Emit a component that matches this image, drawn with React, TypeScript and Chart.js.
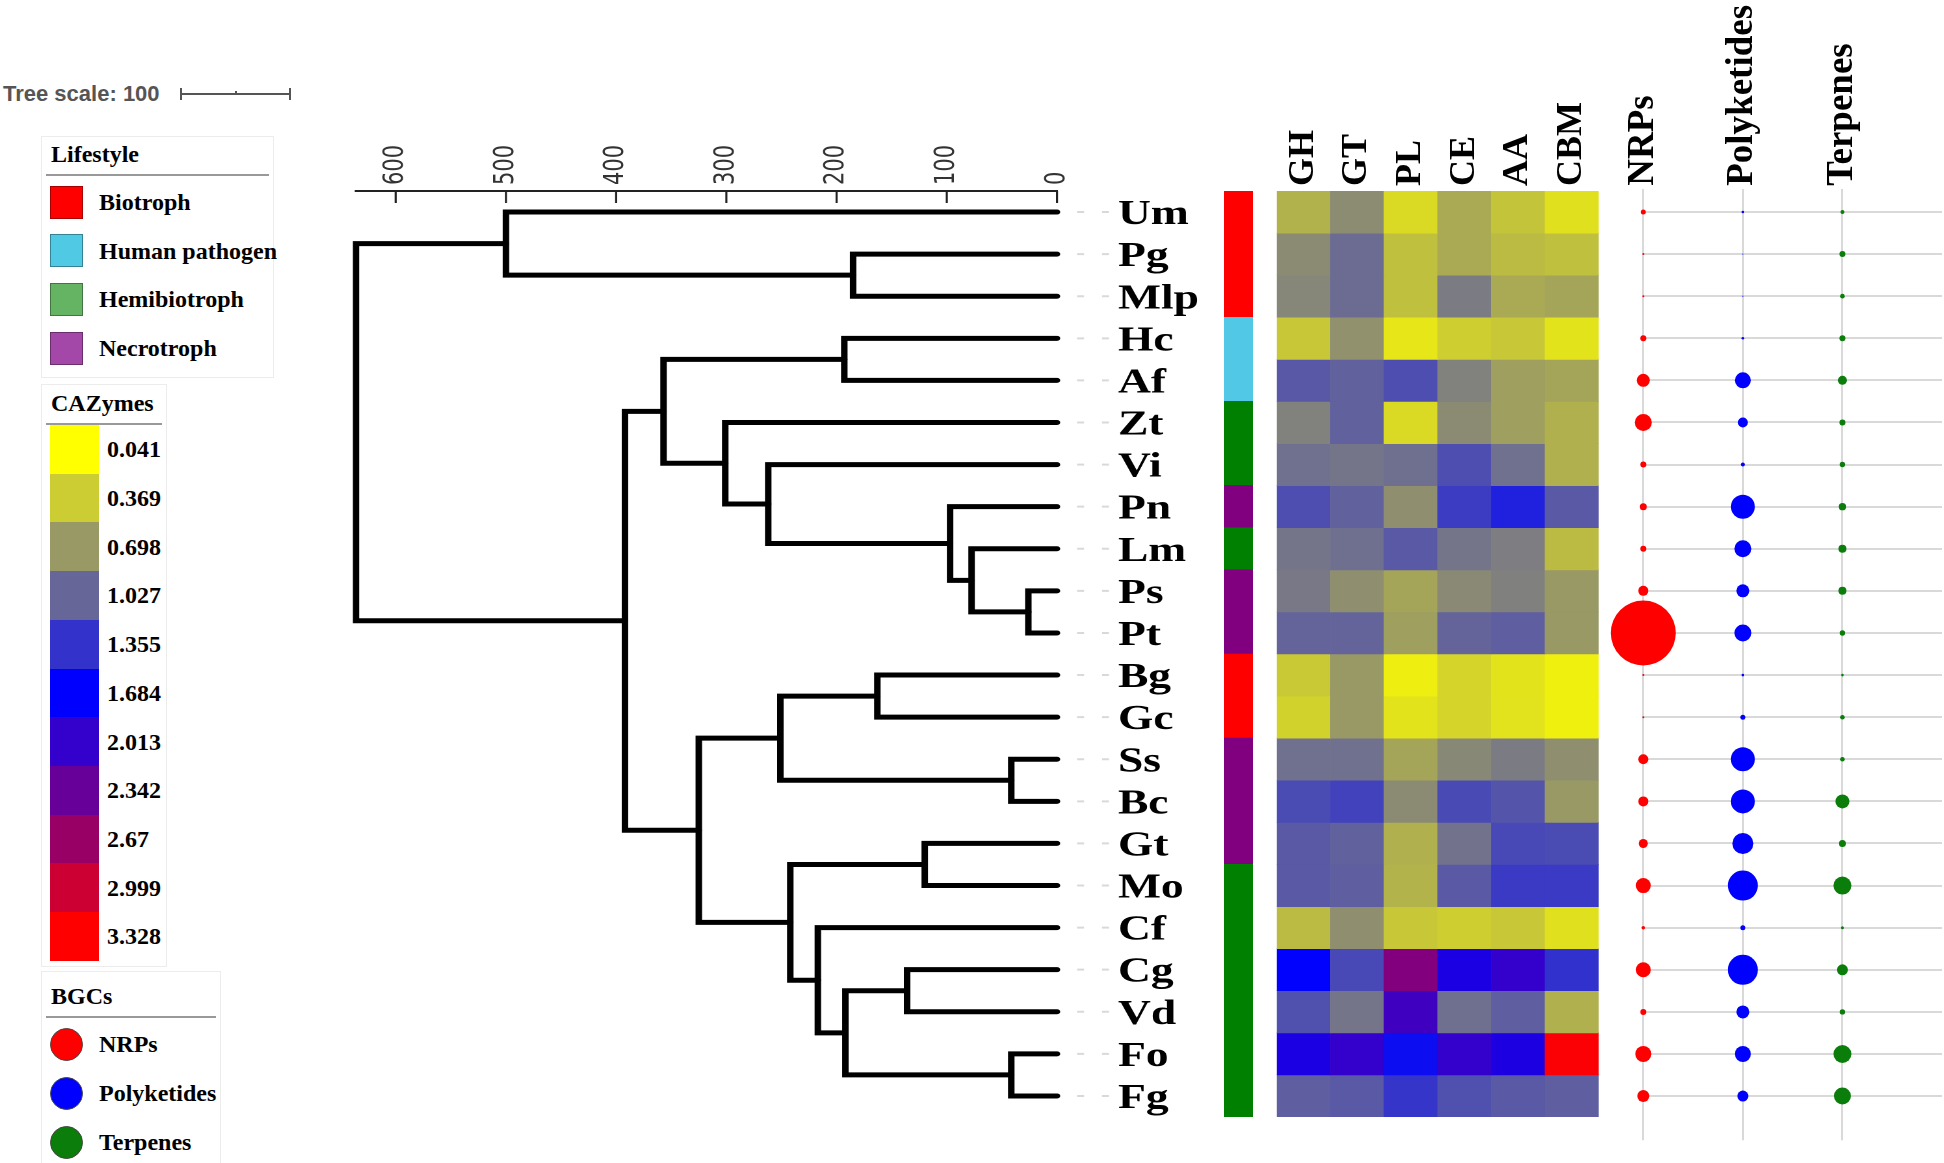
import React, { useEffect, useRef } from 'react';
import { Chart, registerables } from 'chart.js';
Chart.register(...registerables);

// ---------------- data ----------------
const species = ['Um','Pg','Mlp','Hc','Af','Zt','Vi','Pn','Lm','Ps','Pt','Bg','Gc','Ss','Bc','Gt','Mo','Cf','Cg','Vd','Fo','Fg'];

const lifestyles = ['Biotroph', 'Human pathogen', 'Hemibiotroph', 'Necrotroph'];
const speciesLifestyle = ['Biotroph','Biotroph','Biotroph','Human pathogen','Human pathogen','Hemibiotroph','Hemibiotroph','Necrotroph','Hemibiotroph','Necrotroph','Necrotroph','Biotroph','Biotroph','Necrotroph','Necrotroph','Necrotroph','Hemibiotroph','Hemibiotroph','Hemibiotroph','Hemibiotroph','Hemibiotroph','Hemibiotroph'];
const lifestyleBarColors = ['#ff0000', '#50c8e6', '#008000', '#800080'];
const lifestyleKeyColors = ['#ff0000', '#4fc9e4', '#64b464', '#a348a9'];

// dendrogram: internal nodes, their heights and children
const treeNodeNames = ['A','B','C','D','E','F','G','H','I','J','K','L','M','N','O','P','Q','R','S','T','Root'];
const treeNodeHeights = [500, 185, 392, 357, 193, 301, 262, 97, 77.5, 26, 325, 251, 163, 41.5, 242, 120, 217, 192, 136, 41.5, 636];
const treeNodeChildren = [['Um','B'],['Pg','Mlp'],['D','K'],['E','F'],['Hc','Af'],['Zt','G'],['Vi','H'],['Pn','I'],['Lm','J'],['Ps','Pt'],['L','O'],['M','N'],['Bg','Gc'],['Ss','Bc'],['P','Q'],['Gt','Mo'],['Cf','R'],['S','T'],['Cg','Vd'],['Fo','Fg'],['A','C']];
const treeScaleValue = 100;

// CAZymes heatmap
const cazyClasses = ['GH', 'GT', 'PL', 'CE', 'AA', 'CBM'];
const GH  = [0.54,0.79,0.82,0.40,1.12,0.85,0.96,1.18,0.93,0.91,1.04,0.39,0.33,0.96,1.20,1.11,1.11,0.48,1.68,1.17,1.86,1.08];
const GT  = [0.78,0.99,0.99,0.75,1.06,1.06,0.93,1.06,0.97,0.76,1.04,0.70,0.70,0.96,1.26,1.06,1.08,0.76,1.22,0.93,2.01,1.11];
const PL  = [0.28,0.45,0.45,0.20,1.18,0.28,0.97,0.76,1.11,0.62,0.66,0.15,0.22,0.62,0.79,0.55,0.53,0.40,2.52,2.10,1.60,1.34];
const CE  = [0.59,0.59,0.89,0.36,0.85,0.79,1.18,1.30,0.93,0.80,1.04,0.32,0.32,0.81,1.21,0.95,1.11,0.36,1.86,0.97,2.01,1.17];
const AA  = [0.42,0.48,0.59,0.40,0.66,0.66,0.96,1.48,0.88,0.86,1.08,0.22,0.23,0.89,1.14,1.22,1.31,0.40,2.01,1.08,1.87,1.11];
const CBM = [0.24,0.45,0.62,0.22,0.62,0.55,0.55,1.11,0.48,0.70,0.70,0.14,0.14,0.76,0.70,1.20,1.31,0.24,1.37,0.55,3.30,1.08];
const cazyLegendTicks = [0.041, 0.369, 0.698, 1.027, 1.355, 1.684, 2.013, 2.342, 2.67, 2.999, 3.328];

// BGCs (bubble sizes)
const bgcNames = ['NRPs', 'Polyketides', 'Terpenes'];
const NRPs        = [2.5,1,1,3,6.5,8.5,3,3.5,3,5,32.5,1,1,5,5,4.5,7.5,1.8,7.5,3,8,6];
const Polyketides = [1.3,0.6,0.6,1.3,8,5,2,12,8.5,6.5,8.5,1.3,2.5,12,12,10.5,15,2.5,15,6.5,8,5.5];
const Terpenes    = [2,3,2.3,3,4.5,3,2.7,3.7,4,4,2.7,1.3,2.3,2.3,7,3.5,9,1.5,5.5,2.7,9,8.5];
const bgcColors = ['#ff0000', '#0000ff', '#0b7d0b'];

// ---------------- helpers ----------------
const cazyValues = [GH, GT, PL, CE, AA, CBM];
const cMin = cazyLegendTicks[0];
const cMax = cazyLegendTicks[cazyLegendTicks.length - 1];
const cMid = (cMin + cMax) / 2;
function cazyColor(v: number): string {
  let r: number, g: number, b: number;
  if (v <= cMid) {
    const t = Math.max(0, (v - cMin) / (cMid - cMin));
    r = 255 * (1 - t); g = 255 * (1 - t); b = 255 * t;
  } else {
    const s = Math.min(1, (v - cMid) / (cMax - cMid));
    r = 255 * s; g = 0; b = 255 * (1 - s);
  }
  return `rgb(${Math.round(r)},${Math.round(g)},${Math.round(b)})`;
}
const lifestyleColor = (name: string) => lifestyleBarColors[lifestyles.indexOf(name)];

function nodePos(name: string): { x: number; y: number } {
  const li = species.indexOf(name);
  if (li >= 0) return { x: 0, y: li };
  const ni = treeNodeNames.indexOf(name);
  const [a, b] = treeNodeChildren[ni].map(nodePos);
  return { x: treeNodeHeights[ni], y: (a.y + b.y) / 2 };
}

const SERIF = '"Liberation Serif", "Times New Roman", serif';
const ROW_TOP = 191;
const ROW_BOTTOM = 1117;

const downTicks = {
  id: 'downTicks',
  afterDraw(chart: any) {
    const s = chart.scales.x;
    const ctx = chart.ctx;
    ctx.save();
    ctx.strokeStyle = '#222';
    ctx.lineWidth = 1.6;
    s.ticks.forEach((t: any) => {
      const x = s.getPixelForValue(t.value);
      ctx.beginPath();
      ctx.moveTo(x, s.bottom);
      ctx.lineTo(x, s.bottom + 12);
      ctx.stroke();
    });
    ctx.restore();
  },
};

export default function App() {
  const treeRef = useRef<HTMLCanvasElement>(null);
  const lifeRef = useRef<HTMLCanvasElement>(null);
  const heatRef = useRef<HTMLCanvasElement>(null);
  const bubbleRef = useRef<HTMLCanvasElement>(null);

  useEffect(() => {
    const charts: Chart[] = [];

    // ---- tree ----
    const treeSets: any[] = treeNodeNames.map((name, i) => {
      const [a, b] = treeNodeChildren[i].map(nodePos);
      const h = treeNodeHeights[i];
      return {
        data: [{ x: a.x, y: a.y }, { x: h, y: a.y }, { x: h, y: b.y }, { x: b.x, y: b.y }],
        borderColor: '#000', borderWidth: 5, borderCapStyle: 'round', borderJoinStyle: 'miter',
        pointRadius: 0, fill: false, tension: 0, clip: false,
      };
    });
    species.forEach((_, i) => {
      treeSets.push({
        data: [{ x: -18.2, y: i }, { x: -47.2, y: i }],
        borderColor: '#d9d9d9', borderWidth: 2, borderDash: [5.4, 13.8],
        pointRadius: 0, fill: false, clip: false,
      });
    });
    const treeFont = 21;
    charts.push(new Chart(treeRef.current!, {
      type: 'line',
      data: { datasets: treeSets },
      plugins: [downTicks],
      options: {
        animation: false, responsive: false, devicePixelRatio: 2, events: [],
        layout: { autoPadding: false, padding: { left: 43.1, right: 0, top: 0, bottom: 1163 - ROW_BOTTOM } },
        plugins: { legend: { display: false }, tooltip: { enabled: false } },
        scales: {
          x: {
            type: 'linear', position: 'top', reverse: true, min: 0, max: 636,
            afterFit: (s: any) => { s.height = ROW_TOP; },
            ticks: { stepSize: treeScaleValue, includeBounds: false, minRotation: 90, maxRotation: 90, padding: 6,
              labelOffset: treeFont * 1.2,
              font: { family: '"DejaVu Sans", sans-serif', size: treeFont }, color: '#333' },
            grid: { display: false, drawTicks: false },
            border: { display: true, color: '#222', width: 2 },
          },
          y: {
            type: 'linear', position: 'right', reverse: true, min: -0.5, max: 21.5,
            afterFit: (s: any) => { s.width = 117.7; },
            afterBuildTicks: (s: any) => { s.ticks = species.map((_, i) => ({ value: i })); },
            ticks: { autoSkip: false, padding: 2.9, labelOffset: 3, callback: (v: any) => species[v],
              font: { family: SERIF, weight: 'bold', size: 35 }, color: '#000' },
            grid: { display: false, drawTicks: true, tickLength: 44 },
            border: { display: false },
          },
        },
      } as any,
    }));

    // ---- lifestyle strip ----
    charts.push(new Chart(lifeRef.current!, {
      type: 'bar',
      data: {
        labels: species,
        datasets: [{ data: species.map(() => 1), backgroundColor: speciesLifestyle.map(lifestyleColor),
          borderWidth: 0, barPercentage: 1, categoryPercentage: 1 }],
      },
      options: {
        indexAxis: 'y', animation: false, responsive: false, events: [],
        layout: { autoPadding: false, padding: 0 },
        plugins: { legend: { display: false }, tooltip: { enabled: false } },
        scales: { x: { display: false, min: 0, max: 1 }, y: { display: false } },
      } as any,
    }));

    // ---- heatmap ----
    const headFont = 36;
    charts.push(new Chart(heatRef.current!, {
      type: 'bar',
      data: {
        labels: cazyClasses,
        datasets: species.map((_, r) => ({
          data: cazyClasses.map(() => [r - 0.5, r + 0.5]),
          backgroundColor: cazyValues.map(col => cazyColor(col[r])),
          borderWidth: 0, barPercentage: 1, categoryPercentage: 1, grouped: false,
        })),
      },
      options: {
        animation: false, responsive: false, events: [],
        layout: { autoPadding: false, padding: { left: 61.7, right: 16.3, top: 0, bottom: 1163 - ROW_BOTTOM } },
        plugins: { legend: { display: false }, tooltip: { enabled: false } },
        scales: {
          x: {
            position: 'top',
            afterFit: (s: any) => { s.height = ROW_TOP; },
            ticks: { minRotation: 90, maxRotation: 90, padding: 5, labelOffset: headFont * 1.2,
              font: { family: SERIF, weight: 'bold', size: headFont }, color: '#000' },
            grid: { display: false, drawTicks: false },
            border: { display: false },
          },
          y: { type: 'linear', display: false, reverse: true, min: -0.5, max: 21.5 },
        },
      } as any,
    }));

    // ---- BGC bubbles ----
    const bgcValues = [NRPs, Polyketides, Terpenes];
    const bgcFont = 37;
    charts.push(new Chart(bubbleRef.current!, {
      type: 'bubble',
      data: {
        datasets: bgcNames.map((name, c) => ({
          label: name,
          data: species.map((_, i) => ({ x: c, y: i, r: bgcValues[c][i] })),
          backgroundColor: bgcColors[c], borderWidth: 0, clip: false,
        })),
      },
      options: {
        animation: false, responsive: false, events: [],
        layout: { autoPadding: false, padding: { left: 63.3, right: 2, top: 0, bottom: 22.7 } },
        plugins: { legend: { display: false }, tooltip: { enabled: false } },
        scales: {
          x: {
            type: 'linear', position: 'top', min: 0, max: 3,
            afterFit: (s: any) => { s.height = 188.8; },
            afterBuildTicks: (s: any) => { s.ticks = bgcNames.map((_, i) => ({ value: i })); },
            ticks: { autoSkip: false, minRotation: 90, maxRotation: 90, padding: 3, labelOffset: bgcFont * 1.2,
              callback: (v: any) => bgcNames[v],
              font: { family: SERIF, weight: 'bold', size: bgcFont }, color: '#000' },
            grid: { color: '#d9d9d9', lineWidth: 2, drawTicks: false },
            border: { display: false },
          },
          y: {
            type: 'linear', reverse: true, min: -0.55, max: 22.05,
            afterFit: (s: any) => { s.width = 0; },
            afterBuildTicks: (s: any) => { s.ticks = species.map((_, i) => ({ value: i })); },
            ticks: { display: false },
            grid: { color: '#d9d9d9', lineWidth: 2, drawTicks: false },
            border: { display: false },
          },
        },
      } as any,
    }));

    return () => charts.forEach(c => c.destroy());
  }, []);

  const abs = (s: any) => ({ position: 'absolute' as const, ...s });
  const textRow = (left: number, cy: number, text: string, size = 24) => (
    <div style={abs({ left, top: cy - 16, height: 32, lineHeight: '32px', fontFamily: SERIF, fontWeight: 'bold', fontSize: size, color: '#000', whiteSpace: 'nowrap' })}>{text}</div>
  );

  return (
    <div style={abs({ left: 0, top: 0, width: 1944, height: 1163, background: '#fff', overflow: 'hidden' })}>
      {/* tree scale */}
      <div style={abs({ left: 3, top: 81, height: 26, lineHeight: '26px', fontFamily: '"Liberation Sans", Arial, sans-serif', fontWeight: 'bold', fontSize: 22, color: '#555', whiteSpace: 'nowrap' })}>Tree scale: {treeScaleValue}</div>
      <div style={abs({ left: 180, top: 93, width: 111, height: 2, background: '#555' })} />
      <div style={abs({ left: 180, top: 88, width: 2, height: 12, background: '#555' })} />
      <div style={abs({ left: 289, top: 88, width: 2, height: 12, background: '#555' })} />
      <div style={abs({ left: 235, top: 91, width: 2, height: 3, background: '#555' })} />

      {/* Lifestyle legend */}
      <div style={abs({ left: 41, top: 136, width: 233, height: 242, border: '1px solid #ececec', boxSizing: 'border-box' })} />
      {textRow(51, 154, 'Lifestyle')}
      <div style={abs({ left: 46, top: 174, width: 223, height: 2, background: '#999' })} />
      {lifestyles.map((name, i) => {
        const cy = 202 + 48.7 * i;
        return (
          <React.Fragment key={name}>
            <div style={abs({ left: 50, top: cy - 16.5, width: 33, height: 33, background: lifestyleKeyColors[i], border: '1px solid rgba(0,0,0,0.35)', boxSizing: 'border-box' })} />
            {textRow(99, cy, name)}
          </React.Fragment>
        );
      })}

      {/* CAZymes legend */}
      <div style={abs({ left: 41, top: 384, width: 126, height: 583, border: '1px solid #ececec', boxSizing: 'border-box' })} />
      {textRow(51, 403, 'CAZymes')}
      <div style={abs({ left: 46, top: 423, width: 116, height: 2, background: '#999' })} />
      {cazyLegendTicks.map((v, i) => {
        const top = 425 + 48.7 * i;
        return (
          <React.Fragment key={v}>
            <div style={abs({ left: 50, top, width: 49, height: 49, background: cazyColor(v) })} />
            {textRow(107, top + 24.35, String(v))}
          </React.Fragment>
        );
      })}

      {/* BGCs legend */}
      <div style={abs({ left: 41, top: 971, width: 180, height: 220, border: '1px solid #ececec', boxSizing: 'border-box' })} />
      {textRow(51, 996, 'BGCs')}
      <div style={abs({ left: 46, top: 1016, width: 170, height: 2, background: '#999' })} />
      {bgcNames.map((name, i) => {
        const cy = 1044 + 49 * i;
        return (
          <React.Fragment key={name}>
            <div style={abs({ left: 50, top: cy - 16.5, width: 33, height: 33, borderRadius: '50%', background: bgcColors[i], border: '1px solid #444', boxSizing: 'border-box' })} />
            {textRow(99, cy, name)}
          </React.Fragment>
        );
      })}

      {/* charts */}
      <canvas ref={treeRef} width={700} height={1163} style={{ position: 'absolute', left: 300, top: 0, width: '910px', height: '1163px' }} />
      <canvas ref={lifeRef} width={29} height={ROW_BOTTOM - ROW_TOP} style={{ position: 'absolute', left: 1224, top: ROW_TOP, width: '29px', height: `${ROW_BOTTOM - ROW_TOP}px` }} />
      <canvas ref={heatRef} width={400} height={1163} style={{ position: 'absolute', left: 1215, top: 0, width: '400px', height: '1163px' }} />
      <canvas ref={bubbleRef} width={364} height={1163} style={{ position: 'absolute', left: 1580, top: 0, width: '364px', height: '1163px' }} />
    </div>
  );
}
